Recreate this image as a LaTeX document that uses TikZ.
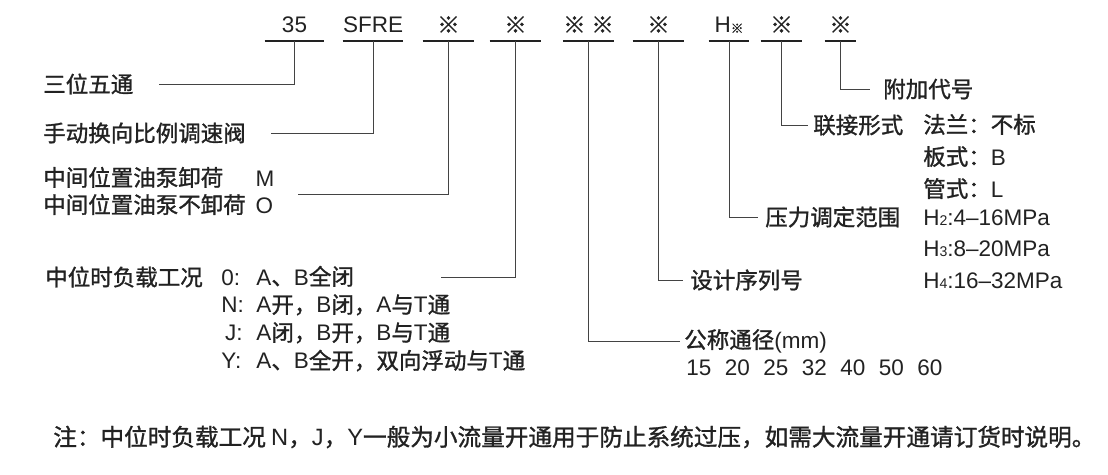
\documentclass[tikz,border=0pt]{standalone}
\usepackage{fontspec}
\setmainfont{Noto Sans CJK SC}[FakeBold=1.2]
\newfontfamily\enfont{Liberation Sans}
\newcommand\en[1]{{\enfont #1}}
\newcommand\sm[1]{{\fontsize{10pt}{10pt}\selectfont #1}}
\definecolor{ink}{HTML}{222222}

\begin{document}
\begin{tikzpicture}
  [x=0.025cm,y=-0.025cm,
   lab/.style={inner sep=0pt,text=ink,font=\fontsize{16pt}{19.2pt}\selectfont},
   codebox/.style={anchor=south,inner xsep=0pt,inner ysep=5.5pt,text depth=0pt,
     minimum width=#1,text=ink,font=\fontsize{16pt}{19.2pt}\selectfont},
   bar/.style={draw=ink,line width=1.4pt},
   conn/.style={draw=ink!85,line width=0.6pt}]
  \fill[white] (0,0) rectangle (1108,474);
  \useasboundingbox (0,0) rectangle (1108,474);

  % type code
  \node[codebox=1.475cm] (k35) at (294.5,41) {\en{35}};
  \node[codebox=1.5cm] (ksfre) at (373,41) {\en{SFRE}};
  \node[codebox=1.275cm] (ka) at (448.5,41) {※};
  \node[codebox=1.275cm] (kb) at (515.5,41) {※};
  \node[codebox=1.225cm] (kc) at (588.5,41) {※\hspace{4pt}※};
  \node[codebox=1.275cm] (kd) at (658.5,41) {※};
  \node[codebox=1cm] (kh) at (729,41) {\en{H}{\fontsize{9pt}{9pt}\selectfont ※}};
  \node[codebox=1.025cm] (ke) at (781.5,41) {※};
  \node[codebox=0.775cm] (kf) at (840.5,41) {※};
  \foreach \k in {k35,ksfre,ka,kb,kc,kd,kh,ke,kf}
    \draw[bar] (\k.south west) -- (\k.south east);

  % left side
  \node[lab,anchor=west] (l1) at (43,84) {三位五通};
  \node[lab,anchor=west] (l2) at (43,133) {手动换向比例调速阀};
  \node[lab,anchor=base west] (l3) at (43,186)
    {\begin{tabular}[t]{@{}l@{\hspace{7pt}}l@{}}
     中间位置油泵卸荷 & \en{M}\\
     中间位置油泵不卸荷 & \en{O}
     \end{tabular}};
  \node[lab,anchor=west] (l4) at (45,277) {中位时负载工况};
  \node[lab,anchor=base west,font=\fontsize{16pt}{19.9pt}\selectfont] (l4r) at (221,285)
    {\begin{tabular}[t]{@{}l@{\hspace{9pt}}l@{}}
     \en{0:} & \en{A}、\en{B}全闭\\
     \en{N:} & \en{A}开，\en{B}闭，\en{A}与\en{T}通\\
     \en{\,J:} & \en{A}闭，\en{B}开，\en{B}与\en{T}通\\
     \en{Y:} & \en{A}、\en{B}全开，双向浮动与\en{T}通
     \end{tabular}};
  \coordinate (e4) at (441,277);

  % right side
  \node[lab,anchor=west] (l5) at (684,341) {公称通径\en{(mm)}};
  \node[lab,anchor=west] (l5r) at (686,368)
    {\en{15\hspace{0.6em}20\hspace{0.6em}25\hspace{0.6em}32\hspace{0.6em}40\hspace{0.6em}50\hspace{0.6em}60}};
  \node[lab,anchor=west] (l6) at (690,280) {设计序列号};
  \node[lab,anchor=west] (l7) at (765,217) {压力调定范围};
  \node[lab,anchor=base west,font=\fontsize{16pt}{22.4pt}\selectfont] (l7r) at (923,225)
    {\begin{tabular}[t]{@{}l@{}}
     \en{H\sm{2}:4–16MPa}\\
     \en{H\sm{3}:8–20MPa}\\
     \en{H\sm{4}:16–32MPa}
     \end{tabular}};
  \node[lab,anchor=west] (l8) at (813,125) {联接形式};
  \node[lab,anchor=base west,font=\fontsize{16pt}{22.8pt}\selectfont] (l8r) at (923,133)
    {\begin{tabular}[t]{@{}l@{}}
     法兰：不标\\
     板式：\en{B}\\
     管式：\en{L}
     \end{tabular}};
  \node[lab,anchor=west] (l9) at (883,89) {附加代号};

  % leaders
  \foreach \from/\to/\gap in {k35/l1/0.625cm,ksfre/l2/0.625cm,ka/l3/0.575cm,
      kc/l5/0.1cm,kd/l6/0.175cm,kh/l7/0.175cm,ke/l8/0.125cm,kf/l9/0.325cm}
    \draw[conn,shorten >=\gap] (\from.south) |- (\to);
  \draw[conn] (kb.south) |- (e4);

  % note
  \node[lab,anchor=west,font=\fontsize{16.8pt}{20pt}\selectfont] (note) at (53,437)
    {注：中位时负载工况 \en{N}，\en{J}，\en{Y}一般为小流量开通用于防止系统过压，如需大流量开通请订货时说明。};
\end{tikzpicture}
\end{document}
